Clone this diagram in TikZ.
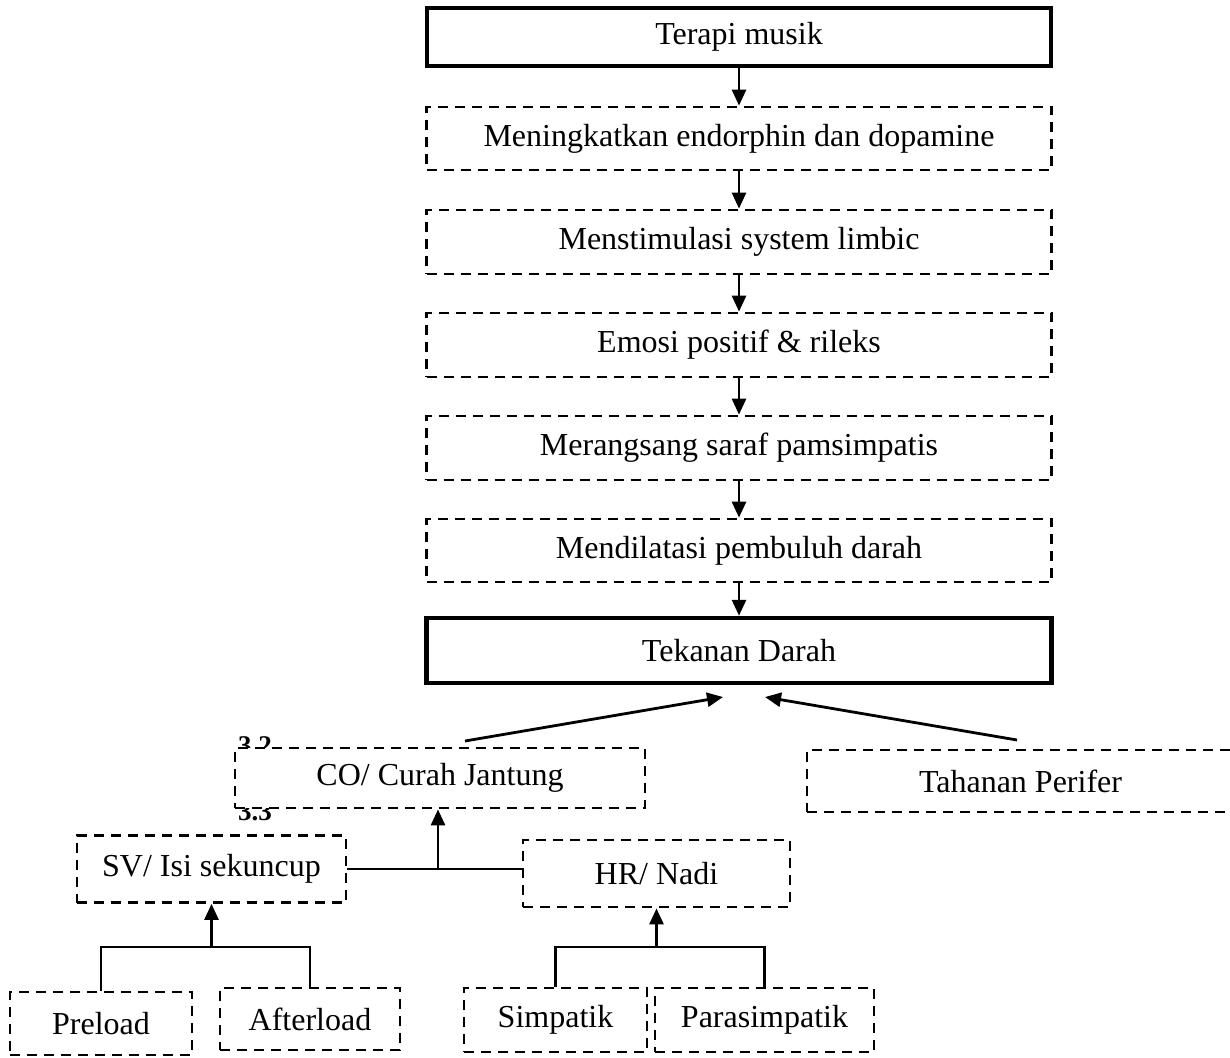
\documentclass[tikz,border=0pt]{standalone}
\usepackage{fontspec}
\setmainfont{Liberation Serif}
\usetikzlibrary{arrows.meta}
\tikzset{
  box/.style={rectangle, draw, fill=white, inner sep=0pt, font=\fontsize{32}{36}\selectfont},
  dbox/.style={box, line width=2.8pt, dash pattern=on 10pt off 7pt},
  tbox/.style={box, line width=4.5pt},
  arr/.style={line width=2.8pt, -{Triangle[length=16pt,width=14pt]}},
  ln/.style={line width=2.2pt},
  stray/.style={font=\fontsize{27}{30}\selectfont\bfseries, inner sep=0pt, anchor=base west}
}
\begin{document}
\begin{tikzpicture}[x=1pt,y=-1pt]
\useasboundingbox (0,0) rectangle (1230,1057);
% stray section numbers (partly hidden behind the CO box)
\node[stray] (n32) at (238,754) {3.2};
\node[stray] (n33) at (238,820) {3.3};
% main chain
\node[tbox, minimum width=624pt, minimum height=58pt] (terapi) at (739,37) {Terapi musik};
\node[dbox, minimum width=625pt, minimum height=63pt] (b1) at (739,138.5) {Meningkatkan endorphin dan dopamine};
\node[dbox, minimum width=625pt, minimum height=64pt] (b2) at (739,242) {Menstimulasi system limbic};
\node[dbox, minimum width=625pt, minimum height=64pt] (b3) at (739,345) {Emosi positif \& rileks};
\node[dbox, minimum width=625pt, minimum height=64pt] (b4) at (739,448) {Merangsang saraf pamsimpatis};
\node[dbox, minimum width=625pt, minimum height=63pt] (b5) at (739,550.5) {Mendilatasi pembuluh darah};
\node[tbox, minimum width=625pt, minimum height=65pt] (tek) at (739,650.5) {Tekanan Darah};
\draw[arr] (terapi.south) -- (b1.north);
\draw[arr] (b1.south) -- (b2.north);
\draw[arr] (b2.south) -- (b3.north);
\draw[arr] (b3.south) -- (b4.north);
\draw[arr] (b4.south) -- (b5.north);
\draw[arr] (b5.south) -- (tek.north);
% second level
\node[dbox, minimum width=410pt, minimum height=60pt] (co) at (440,778) {CO/ Curah Jantung};
\node[dbox, minimum width=427pt, minimum height=62pt] (tp) at (1020.5,781) {Tahanan Perifer};
\coordinate (coS) at (465,741);
\coordinate (coE) at (723,697);
\coordinate (tpS) at (1017,740);
\coordinate (tpE) at (765,697);
\draw[arr] (coS) -- (coE);
\draw[arr] (tpS) -- (tpE);
% third level
\node[dbox, minimum width=269pt, minimum height=67pt] (sv) at (211.5,869) {SV/ Isi sekuncup};
\node[dbox, minimum width=267pt, minimum height=67pt] (hr) at (656.5,873.5) {HR/ Nadi};
\draw[ln] (sv.east) -- (sv.east -| hr.west);
\coordinate (j1) at (438,869);
\draw[arr] (j1) -- (j1 |- co.south);
% bottom level
\node[dbox, minimum width=182pt, minimum height=63pt] (pre) at (101,1023.5) {Preload};
\node[dbox, minimum width=180pt, minimum height=62pt] (aft) at (310,1019) {Afterload};
\node[dbox, minimum width=183pt, minimum height=64pt] (simp) at (555.5,1020) {Simpatik};
\node[dbox, minimum width=219pt, minimum height=64pt] (para) at (764.5,1020) {Parasimpatik};
\coordinate (f1) at (211.5,947);
\coordinate (f2) at (656.5,947);
\draw[ln] (pre.north) |- (f1) -| (aft.north);
\draw[arr] (f1) -- (sv.south);
\draw[ln] (simp.north) |- (f2) -| (para.north);
\draw[arr] (f2) -- (hr.south);
\end{tikzpicture}
\end{document}
